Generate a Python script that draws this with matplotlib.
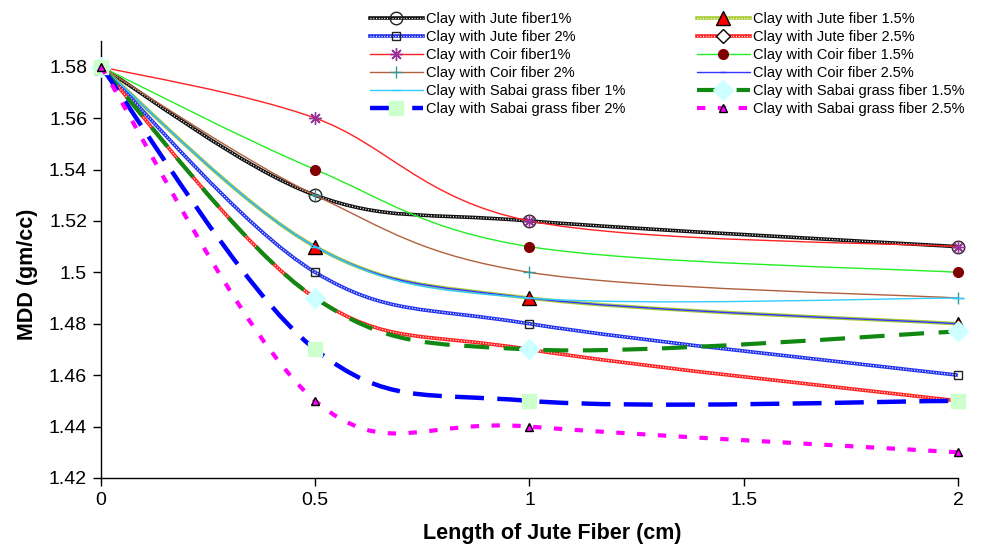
import matplotlib
matplotlib.use("Agg")
import matplotlib.pyplot as plt
from matplotlib.path import Path
from matplotlib.patches import PathPatch
from matplotlib.lines import Line2D

plt.rcParams["font.family"] = ["Liberation Sans", "DejaVu Sans"]

# fibre length (cm)
length = [0, 0.5, 1, 2]

# MDD (gm/cc)
jute_1 = [1.58, 1.53, 1.52, 1.51]
jute_15 = [1.58, 1.51, 1.49, 1.48]
jute_2 = [1.58, 1.50, 1.48, 1.46]
jute_25 = [1.58, 1.49, 1.47, 1.45]
coir_1 = [1.58, 1.56, 1.52, 1.51]
coir_15 = [1.58, 1.54, 1.51, 1.50]
coir_2 = [1.58, 1.53, 1.50, 1.49]
coir_25 = [1.58, 1.51, 1.49, 1.48]
sabai_1 = [1.58, 1.51, 1.49, 1.49]
sabai_15 = [1.58, 1.49, 1.47, 1.477]
sabai_2 = [1.58, 1.47, 1.45, 1.45]
sabai_25 = [1.58, 1.45, 1.44, 1.43]

labels = ["Clay with Jute fiber1%", "Clay with Jute fiber 1.5%", "Clay with Jute fiber 2%",
          "Clay with Jute fiber 2.5%", "Clay with Coir fiber1%", "Clay with Coir fiber 1.5%",
          "Clay with Coir fiber 2%", "Clay with Coir fiber 2.5%", "Clay with Sabai grass fiber 1%",
          "Clay with Sabai grass fiber 1.5%", "Clay with Sabai grass fiber 2%",
          "Clay with Sabai grass fiber 2.5%"]
series = [jute_1, jute_15, jute_2, jute_25, coir_1, coir_15, coir_2, coir_25,
          sabai_1, sabai_15, sabai_2, sabai_25]

# style per series: colour, width, dash, chain(pattern), marker, msize, mface, medge
styles = [
    dict(c="#111111", lw=2.6, ls="-", chain=True, m="o", ms=9, mfc="none", mec="#222222"),
    dict(c="#a8cc30", lw=2.6, ls="-", chain=True, m="^", ms=10, mfc="#ff0000", mec="#000000"),
    dict(c="#2233ee", lw=2.6, ls="-", chain=True, m="s", ms=6, mfc="none", mec="#222222"),
    dict(c="#ff2020", lw=2.6, ls="-", chain=True, m="D", ms=7, mfc="white", mec="#000000"),
    dict(c="#ff2020", lw=1.0, ls="-", chain=False, m=(8, 2, 0), ms=9, mfc="#993399", mec="#993399"),
    dict(c="#22ee22", lw=1.0, ls="-", chain=False, m="o", ms=7, mfc="#800000", mec="#800000"),
    dict(c="#b0603a", lw=1.0, ls="-", chain=False, m="+", ms=9, mfc="#339999", mec="#339999"),
    dict(c="#3333ff", lw=1.0, ls="-", chain=False, m="_", ms=5, mfc="#3333ff", mec="#3333ff"),
    dict(c="#33ccff", lw=1.0, ls="-", chain=False, m="_", ms=7, mfc="#33ccff", mec="#33ccff"),
    dict(c="#118811", lw=3.0, ls=(0, (6, 3.5)), chain=False, m="D", ms=10, mfc="#ccffff", mec="#ccffff"),
    dict(c="#0000ff", lw=3.2, ls=(0, (6.5, 3)), chain=False, m="s", ms=10, mfc="#ccffcc", mec="#ccffcc"),
    dict(c="#ff00ff", lw=3.0, ls=(0, (2, 3)), chain=False, m="^", ms=6, mfc="#ff00ff", mec="#000000"),
]


def smooth_path(xs, ys):
    # Bezier segments (Catmull-Rom style) like the spreadsheet smoothed line
    pts = list(zip(xs, ys))
    verts = [pts[0]]
    codes = [Path.MOVETO]
    n = len(pts)
    for i in range(n - 1):
        p0 = pts[i - 1] if i > 0 else pts[i]
        p1 = pts[i]
        p2 = pts[i + 1]
        p3 = pts[i + 2] if i + 2 < n else pts[i + 1]
        c1 = (p1[0] + (p2[0] - p0[0]) / 6, p1[1] + (p2[1] - p0[1]) / 6)
        c2 = (p2[0] - (p3[0] - p1[0]) / 6, p2[1] - (p3[1] - p1[1]) / 6)
        verts += [c1, c2, p2]
        codes += [Path.CURVE4] * 3
    return Path(verts, codes)


fig = plt.figure(figsize=(9.88, 5.54), dpi=100)
ax = fig.add_axes([0.1022, 0.1372, 0.8674, 0.7888])
ax.spines["right"].set_visible(False)
ax.spines["top"].set_visible(False)

handles = []
for k, (ys, st) in enumerate(zip(series, styles)):
    z = 2 + k * 0.1
    path = smooth_path(length, ys)
    ax.add_patch(PathPatch(path, fill=False, edgecolor=st["c"], lw=st["lw"],
                           linestyle=st["ls"], capstyle="butt", zorder=z))
    parts = [Line2D([0], [0], color=st["c"], lw=st["lw"], linestyle=st["ls"],
                    dash_capstyle="butt")]
    if st["chain"]:
        ax.add_patch(PathPatch(path, fill=False, edgecolor="white", lw=0.9,
                               linestyle=(0, (0.8, 1.4)), zorder=z + 0.01))
        parts.append(Line2D([0], [0], color="white", lw=0.9, linestyle=(0, (0.8, 1.4))))
    ax.plot(length, ys, linestyle="none", marker=st["m"], markersize=st["ms"],
            markerfacecolor=st["mfc"], markeredgecolor=st["mec"], markeredgewidth=1.0,
            zorder=z + 0.02, clip_on=False)
    parts.append(Line2D([0], [0], linestyle="none", marker=st["m"], markersize=st["ms"],
                        markerfacecolor=st["mfc"], markeredgecolor=st["mec"],
                        markeredgewidth=1.0))
    handles.append(tuple(parts))

ax.set_xlim(0, 2)
ax.set_ylim(1.42, 1.59)
ax.set_xticks([0, 0.5, 1, 1.5, 2])
ax.set_xticklabels(["0", "0.5", "1", "1.5", "2"])
yt = [1.42, 1.44, 1.46, 1.48, 1.5, 1.52, 1.54, 1.56, 1.58]
ax.set_yticks(yt)
ax.set_yticklabels(["{:g}".format(v) for v in yt])
ax.tick_params(axis="both", labelsize=14, direction="out", length=6, width=1, pad=4)
for s in ("left", "bottom"):
    ax.spines[s].set_linewidth(1.0)

ax.set_xlabel("Length of Jute Fiber (cm)", fontsize=15.5, fontweight="bold", va="center")
ax.set_ylabel("MDD (gm/cc)", fontsize=15.5, fontweight="bold", va="center")
ax.xaxis.set_label_coords(0.526, -0.128)
ax.yaxis.set_label_coords(-0.0863, 0.467)

left_idx = [0, 2, 4, 6, 8, 10]
right_idx = [1, 3, 5, 7, 9, 11]
leg_kw = dict(frameon=False, fontsize=10.5, handlelength=3.6, handletextpad=0.25,
              labelspacing=0.275, borderpad=0, borderaxespad=0, loc="upper left",
              bbox_transform=fig.transFigure)
leg1 = ax.legend([handles[i] for i in left_idx], [labels[i] for i in left_idx],
                 bbox_to_anchor=(370 / 988, 1 - 12 / 554), **leg_kw)
ax.add_artist(leg1)
ax.legend([handles[i] for i in right_idx], [labels[i] for i in right_idx],
          bbox_to_anchor=(697 / 988, 1 - 12 / 554), **leg_kw)

fig.savefig("out.png", dpi=100)
